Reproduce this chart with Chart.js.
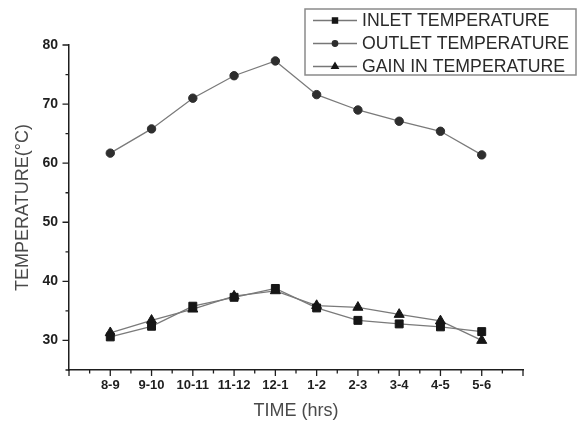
<!DOCTYPE html>
<html>
<head>
<meta charset="utf-8">
<script src="https://cdn.jsdelivr.net/npm/chart.js@4"></script>
<style>
  html, body { margin: 0; padding: 0; background: #fff; }
  #wrap { width: 584px; height: 425px; position: relative; }
</style>
</head>
<body>
<div id="wrap"><canvas id="tempChart"></canvas></div>
<script>
// ---- data ----
const timeLabels = ["8-9", "9-10", "10-11", "11-12", "12-1", "1-2", "2-3", "3-4", "4-5", "5-6"];
const inletTemp  = [30.6, 32.4, 35.8, 37.3, 38.8, 35.5, 33.4, 32.8, 32.3, 31.5];
const outletTemp = [61.7, 65.8, 71.0, 74.8, 77.3, 71.6, 69.0, 67.1, 65.4, 61.4];
const gainTemp   = [31.3, 33.4, 35.3, 37.5, 38.4, 35.9, 35.6, 34.4, 33.3, 30.0];
const yTickValues = [30, 40, 50, 60, 70, 80];

const FONT = "'Liberation Sans', Arial, sans-serif";
const INK = "#1e1e1e";

// put series on a numeric x so the axis can run one step past each end
const toPoints = arr => arr.map((v, i) => ({ x: i + 1, y: v }));

const seriesList = [
    { label: "INLET TEMPERATURE",  values: inletTemp,  style: "rect",     radius: 5.6, color: "#161616" },
    { label: "OUTLET TEMPERATURE", values: outletTemp, style: "circle",   radius: 4.2, color: "#2e2e2e" },
    { label: "GAIN IN TEMPERATURE", values: gainTemp,  style: "triangle", radius: 5.8, color: "#161616" }
];

/* =============================
   TICK MARKS (outward, major + minor)
============================== */
const tickMarks = {
    id: "tickMarks",
    afterDraw(chart) {
        const ctx = chart.ctx;
        const xs = chart.scales.x, ys = chart.scales.y;
        ctx.save();
        ctx.strokeStyle = INK;
        ctx.lineWidth = 1.3;
        ctx.beginPath();
        xs.ticks.forEach(t => {
            const px = xs.getPixelForValue(t.value);
            const len = Number.isInteger(t.value) ? 6 : 3.5;
            ctx.moveTo(px, xs.top);
            ctx.lineTo(px, xs.top + len);
        });
        ys.ticks.forEach(t => {
            const py = ys.getPixelForValue(t.value);
            const len = t.value % 10 === 0 ? 6.5 : 3.5;
            ctx.moveTo(ys.right, py);
            ctx.lineTo(ys.right - len, py);
        });
        // x axis line pokes a little left of the y axis
        ctx.moveTo(ys.right - 2, xs.top);
        ctx.lineTo(ys.right, xs.top);
        ctx.stroke();
        ctx.restore();
    }
};

/* =============================
   BOXED LEGEND (top right)
============================== */
const boxLegend = {
    id: "boxLegend",
    afterDraw(chart) {
        const ctx = chart.ctx;
        const bx = 305, by = 9, bw = 271, bh = 66;
        ctx.save();
        ctx.strokeStyle = "#8a8a8a";
        ctx.lineWidth = 1.5;
        ctx.strokeRect(bx, by, bw, bh);
        ctx.font = "17.7px " + FONT;
        ctx.textBaseline = "middle";
        chart.data.datasets.forEach((ds, i) => {
            const y = 20.5 + i * 23;
            ctx.strokeStyle = "#777";
            ctx.lineWidth = 1.3;
            ctx.beginPath();
            ctx.moveTo(313, y);
            ctx.lineTo(357, y);
            ctx.stroke();
            ctx.fillStyle = ds.pointBackgroundColor;
            ctx.strokeStyle = ds.pointBorderColor;
            Chart.helpers.drawPoint(ctx, {
                pointStyle: ds.pointStyle,
                radius: ds.pointRadius * 0.65,
                rotation: 0,
                borderWidth: 1
            }, 335, y);
            ctx.fillStyle = "#2a2a2a";
            ctx.fillText(ds.label, 362, y + 1);
        });
        ctx.restore();
    }
};

new Chart(document.getElementById("tempChart"), {
    type: "line",
    data: {
        datasets: seriesList.map(s => ({
            label: s.label,
            data: toPoints(s.values),
            borderColor: "#7a7a7a",
            borderWidth: 1.3,
            pointStyle: s.style,
            pointRadius: s.radius,
            pointBackgroundColor: s.color,
            pointBorderColor: s.color,
            pointBorderWidth: 1,
            tension: 0,
            fill: false
        }))
    },
    options: {
        responsive: true,
        maintainAspectRatio: false,
        animation: false,
        layout: { padding: { top: 45, right: 61, left: 0, bottom: 0 } },
        plugins: {
            legend: { display: false },
            tooltip: { enabled: false }
        },
        scales: {
            x: {
                type: "linear",
                min: 0,
                max: 11,
                afterFit: s => { s.height = 55; },
                afterBuildTicks: s => {
                    const t = [];
                    for (let v = 0; v <= 22; v++) t.push({ value: v / 2 });
                    s.ticks = t;
                },
                grid: { display: false, drawTicks: false },
                border: { display: true, color: INK, width: 1.5 },
                ticks: {
                    autoSkip: false,
                    maxRotation: 0,
                    padding: 8,
                    color: INK,
                    font: { family: FONT, size: 13, weight: "bold" },
                    callback: v => (Number.isInteger(v) && v >= 1 && v <= timeLabels.length) ? timeLabels[v - 1] : ""
                },
                title: {
                    display: true,
                    text: "TIME (hrs)",
                    color: "#4a4a4a",
                    font: { family: FONT, size: 18 },
                    padding: { top: 0, bottom: 3 }
                }
            },
            y: {
                min: 25,
                max: 80,
                afterFit: s => { s.width = 69; },
                afterBuildTicks: s => {
                    const t = [];
                    for (let v = 25; v <= 80; v += 5) t.push({ value: v });
                    s.ticks = t;
                },
                grid: { display: false, drawTicks: false },
                border: { display: true, color: INK, width: 1.5 },
                ticks: {
                    autoSkip: false,
                    padding: 11,
                    color: INK,
                    font: { family: FONT, size: 14, weight: "bold" },
                    callback: v => yTickValues.includes(v) ? String(v) : ""
                },
                title: {
                    display: true,
                    text: "TEMPERATURE(°C)",
                    color: "#4a4a4a",
                    font: { family: FONT, size: 18 },
                    padding: { top: 12, bottom: 0 }
                }
            }
        }
    },
    plugins: [tickMarks, boxLegend]
});
</script>
</body>
</html>
